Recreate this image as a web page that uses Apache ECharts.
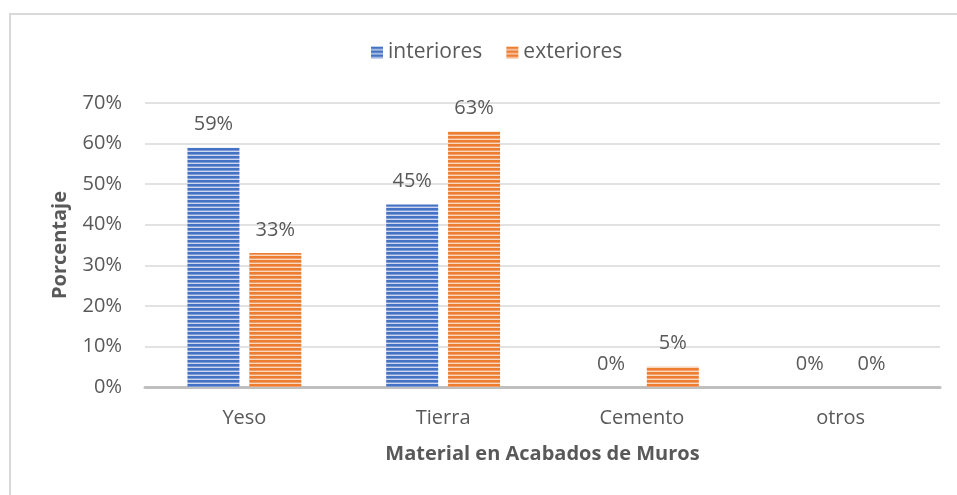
<!DOCTYPE html>
<html>
<head>
<meta charset="utf-8">
<script src="https://cdn.jsdelivr.net/npm/echarts@6/dist/echarts.min.js"></script>
<style>
  html, body { margin: 0; padding: 0; background: #fff; }
  #frame { position: absolute; left: 9px; top: 13px; width: 960px; height: 490px;
           border-left: 2px solid #d9d9d9; border-top: 2px solid #d9d9d9; }
  #chart { position: absolute; left: 0; top: 0; width: 957px; height: 495px; }
</style>
</head>
<body>
<div id="frame"></div>
<div id="chart"></div>
<script>
const categories = ['Yeso', 'Tierra', 'Cemento', 'otros'];
const interiores = [59, 45, 0, 0];
const exteriores = [33, 63, 5, 0];
const yTicks = [0, 10, 20, 30, 40, 50, 60, 70];

// Horizontal striped fill used by both series
function stripes(base, mid, light) {
  const c = document.createElement('canvas');
  c.width = 4; c.height = 4;
  const g = c.getContext('2d');
  g.fillStyle = base; g.fillRect(0, 0, 4, 4);
  g.fillStyle = mid; g.fillRect(0, 2, 4, 1);
  g.fillStyle = light; g.fillRect(0, 3, 4, 1);
  return { image: c, repeat: 'repeat' };
}
const blueFill = stripes('#4472C4', '#7d9ad6', '#cdd8ef');
const orangeFill = stripes('#ED7D31', '#f2a06b', '#fad7bf');

const FONT = 'Open Sans';
const TXT = '#595959';

const chart = echarts.init(document.getElementById('chart'), null, { renderer: 'canvas' });
chart.setOption({
  animation: false,
  backgroundColor: 'transparent',
  textStyle: { fontFamily: FONT },
  legend: {
    top: 37, left: 366,
    icon: 'rect',
    itemWidth: 12, itemHeight: 12, itemGap: 24,
    textStyle: { fontFamily: FONT, fontSize: 21, color: TXT },
    data: ['interiores', 'exteriores']
  },
  grid: { left: 145, right: 17, top: 103, bottom: 108, containLabel: false },
  xAxis: {
    type: 'category',
    data: categories,
    name: 'Material en Acabados de Muros',
    nameLocation: 'middle',
    nameGap: 57,
    nameTextStyle: { fontFamily: FONT, fontSize: 20, fontWeight: 'bold', color: TXT },
    axisLine: { lineStyle: { color: '#bfbfbf', width: 3 } },
    axisTick: { show: false },
    axisLabel: { fontFamily: FONT, fontSize: 20, color: TXT, margin: 21 }
  },
  yAxis: {
    type: 'value',
    min: yTicks[0], max: yTicks[yTicks.length - 1], interval: 10,
    name: 'Porcentaje',
    nameLocation: 'middle',
    nameGap: 75,
    nameTextStyle: { fontFamily: FONT, fontSize: 20, fontWeight: 'bold', color: TXT },
    axisLine: { show: false },
    axisTick: { show: false },
    axisLabel: { fontFamily: FONT, fontSize: 20, color: TXT, margin: 23, formatter: v => v + '%' },
    splitLine: { lineStyle: { color: '#d9d9d9', width: 1.5 } }
  },
  series: [
    {
      name: 'interiores', type: 'bar', data: interiores,
      barWidth: 52, barGap: '19%',
      itemStyle: { color: blueFill },
      label: { show: true, position: 'top', distance: 13, fontFamily: FONT, fontSize: 20, color: TXT,
               formatter: p => p.value + '%' }
    },
    {
      name: 'exteriores', type: 'bar', data: exteriores,
      barWidth: 52,
      itemStyle: { color: orangeFill },
      label: { show: true, position: 'top', distance: 13, fontFamily: FONT, fontSize: 20, color: TXT,
               formatter: p => p.value + '%' }
    }
  ]
});
</script>
</body>
</html>
